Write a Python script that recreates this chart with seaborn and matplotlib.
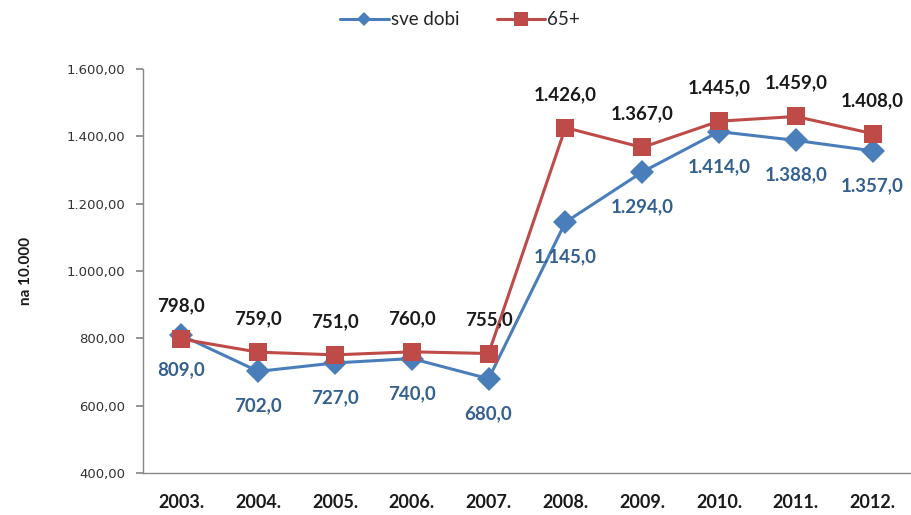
import matplotlib
matplotlib.use("Agg")
import matplotlib.pyplot as plt
import seaborn as sns
import pandas as pd
from matplotlib.ticker import FuncFormatter
from matplotlib.lines import Line2D

years = ["2003.", "2004.", "2005.", "2006.", "2007.", "2008.", "2009.", "2010.", "2011.", "2012."]
sve_dobi = [809, 702, 727, 740, 680, 1145, 1294, 1414, 1388, 1357]
plus65 = [798, 759, 751, 760, 755, 1426, 1367, 1445, 1459, 1408]
series_names = ["sve dobi", "65+"]
yticks = [400, 600, 800, 1000, 1200, 1400, 1600]

sns.set_theme(style="white")
plt.rcParams['font.family'] = ['Lato', 'DejaVu Sans']

df = pd.DataFrame({
    "x": list(range(len(years))) * 2,
    "value": sve_dobi + plus65,
    "series": [series_names[0]] * len(years) + [series_names[1]] * len(years),
})

blue = "#4A7EBB"
red = "#BE4B48"

fig = plt.figure(figsize=(9.11, 5.15), dpi=100)
ax = fig.add_axes([0.157, 0.0815, 0.843, 0.7845])

sns.lineplot(data=df, x="x", y="value", hue="series", style="series",
             palette={series_names[0]: blue, series_names[1]: red},
             markers={series_names[0]: "D", series_names[1]: "s"},
             dashes=False, linewidth=2.2, markersize=12, markeredgewidth=0,
             ax=ax, legend=False)
for ln in ax.lines:
    if ln.get_marker() == "s":
        ln.set_markersize(13)

def fmt(v, dec):
    s = f"{v:,.{dec}f}"
    return s.replace(",", "X").replace(".", ",").replace("X", ".")

for i, (a, b) in enumerate(zip(sve_dobi, plus65)):
    ax.annotate(fmt(b, 1), (i, b), xytext=(0, 24), textcoords="offset points",
                ha="center", va="center", fontsize=13.5, fontweight="bold", color="#1a1a1a")
    ax.annotate(fmt(a, 1), (i, a), xytext=(0, -25), textcoords="offset points",
                ha="center", va="center", fontsize=13.5, fontweight="bold", color="#34608F")

ax.set_xlim(-0.5, 9.5)
ax.set_ylim(400, 1600)
ax.set_yticks(yticks)
ax.yaxis.set_major_formatter(FuncFormatter(lambda v, p: fmt(v, 2)))
ax.set_xticks(range(len(years)))
ax.set_xticklabels(years)
for lab in ax.get_xticklabels():
    lab.set_fontweight("bold")
    lab.set_fontsize(13)
    lab.set_color("#1a1a1a")
for lab in ax.get_yticklabels():
    lab.set_fontsize(9.5)
    lab.set_family(["DejaVu Sans"])
    lab.set_color("#333333")
ax.tick_params(axis="y", which="both", left=True, length=5, color="#888888", pad=8)
ax.tick_params(axis="x", bottom=False, pad=9)
ax.set_xlabel("")
ax.set_ylabel("na 10.000", fontsize=11, fontweight="bold", labelpad=24, color="#1a1a1a")
for side in ["top", "right"]:
    ax.spines[side].set_visible(False)
for side in ["left", "bottom"]:
    ax.spines[side].set_color("#888888")
    ax.spines[side].set_linewidth(1)

handles = [Line2D([], [], color=blue, marker="D", markersize=7, linewidth=2.2, markeredgewidth=0),
           Line2D([], [], color=red, marker="s", markersize=10, linewidth=2.2, markeredgewidth=0)]
fig.legend(handles, series_names, loc="center", bbox_to_anchor=(0.505, 0.962), ncol=2,
           frameon=False, fontsize=13.5, handlelength=2.6, columnspacing=2.0, handletextpad=0.1)

fig.savefig("out.png", dpi=100)
